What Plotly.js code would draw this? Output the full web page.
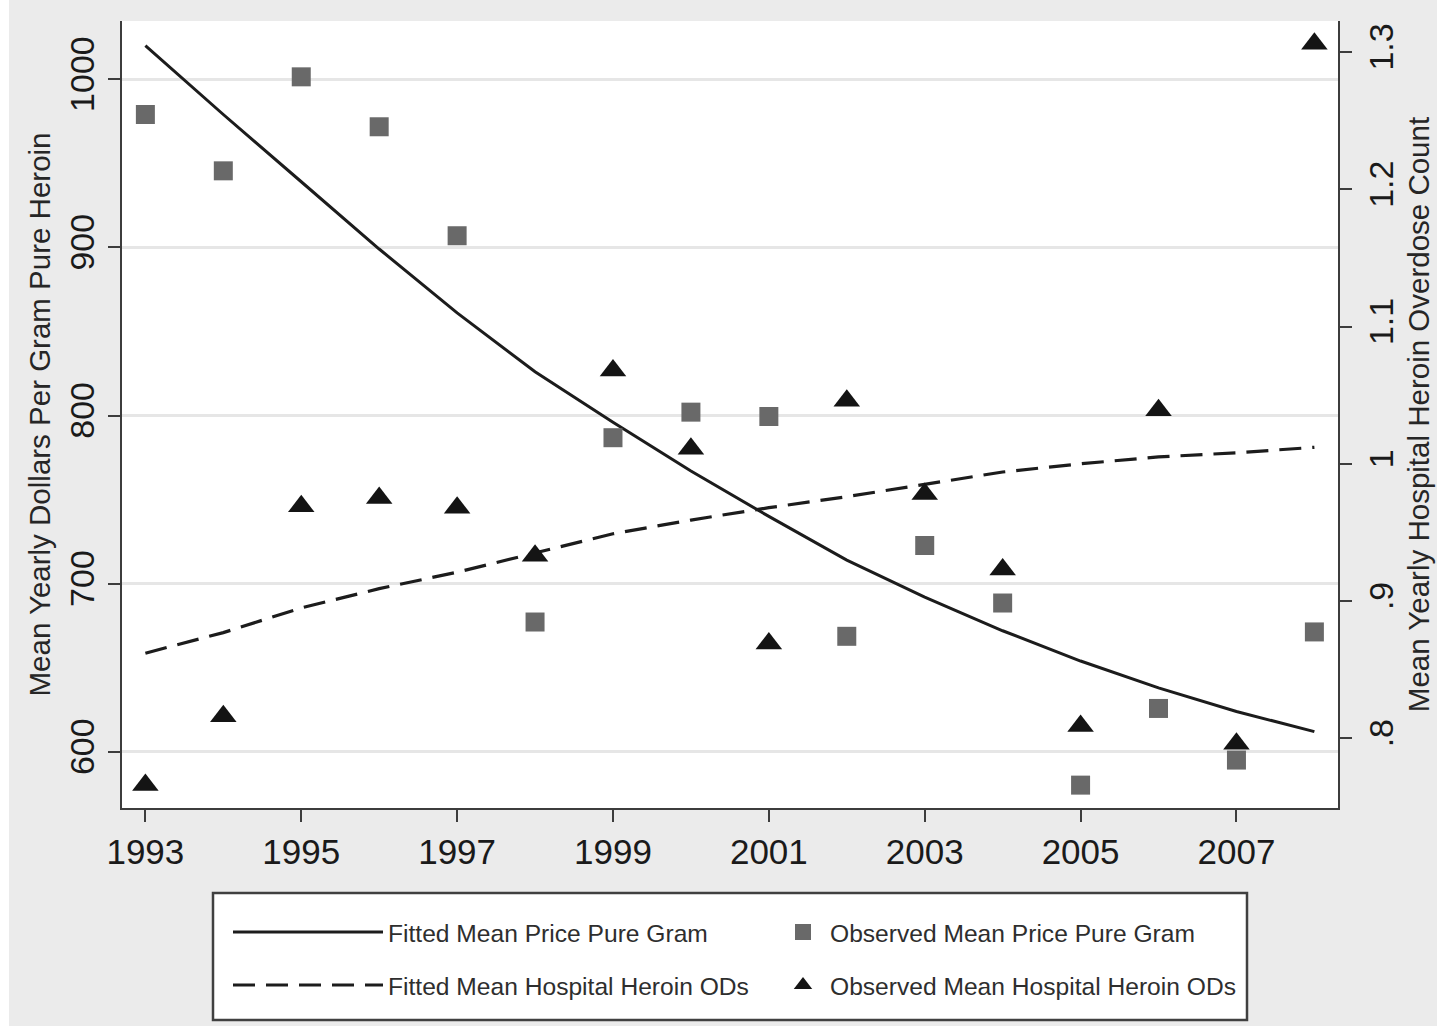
<!DOCTYPE html>
<html><head><meta charset="utf-8">
<script src="https://cdn.plot.ly/plotly-3.0.1.min.js"></script>
<style>html,body{margin:0;padding:0;background:#ebebeb;}#chart{width:1437px;height:1026px;}</style>
</head><body><div id="chart"></div>
<script>
// ---- data ----
const years = [1993,1994,1995,1996,1997,1998,1999,2000,2001,2002,2003,2004,2005,2006,2007,2008];
const observedPrice = [979.0,945.5,1001.4,971.7,906.9,677.2,786.8,802.0,799.4,668.7,722.7,688.5,580.2,625.8,595.1,671.3];
const fittedPrice = [1020,979,939,899,861,826,796,767,740,714,692,672,654,638,624,612];
const observedODs = [0.766,0.816,0.969,0.975,0.968,0.933,1.068,1.011,0.869,1.046,0.978,0.923,0.809,1.039,0.796,1.306];
const fittedODs = [0.862,0.877,0.895,0.909,0.921,0.935,0.949,0.959,0.968,0.976,0.985,0.994,1.000,1.005,1.008,1.012];
const xTickVals = [1993,1995,1997,1999,2001,2003,2005,2007];
const leftTickVals = [600,700,800,900,1000];
const rightTickVals = [0.8,0.9,1.0,1.1,1.2,1.3];
const rightTickText = ['.8','.9','1','1.1','1.2','1.3'];
const seriesNames = ['Fitted Mean Price Pure Gram','Observed Mean Price Pure Gram','Fitted Mean Hospital Heroin ODs','Observed Mean Hospital Heroin ODs'];

// ---- layout geometry ----
const W = 1437, H = 1026;
const M = {l:122, r:99, t:21, b:218};
const plotW = W - M.l - M.r, plotH = H - M.t - M.b;
const px2x = p => (p - M.l) / plotW;
const px2y = p => (H - M.b - p) / plotH;
const FONT = 'Liberation Sans, Arial, Helvetica, sans-serif';
const axisCol = '#3c3c3c';

const traces = [
  {x: years, y: fittedPrice, name: seriesNames[0], type:'scatter', mode:'lines', yaxis:'y',
   line:{color:'#1c1c1c', width:3}, legend:'legend'},
  {x: years, y: observedPrice, name: seriesNames[1], type:'scatter', mode:'markers', yaxis:'y',
   marker:{symbol:'square', size:19, color:'#696969'}, legend:'legend2'},
  {x: years, y: fittedODs, name: seriesNames[2], type:'scatter', mode:'lines', yaxis:'y2',
   line:{color:'#1c1c1c', width:3.2, dash:'22px,11px'}, legend:'legend3'},
  {x: years, y: observedODs, name: seriesNames[3], type:'scatter', mode:'markers', yaxis:'y2',
   marker:{symbol:'triangle-up', size:23, color:'#141414'}, legend:'legend4'}
];

function leg(xpx, ypx, iw){
  return {xref:'container', yref:'container', x: xpx/W, y: 1 - ypx/H, xanchor:'left', yanchor:'middle',
    orientation:'h', bgcolor:'rgba(0,0,0,0)', borderwidth:0, itemwidth: iw,
    font:{family:FONT, size:24.6, color:'#2e2e2e'}};
}

const layout = {
  width: W, height: H,
  margin: M,
  paper_bgcolor:'#ebebeb', plot_bgcolor:'#ffffff',
  font:{family:FONT, color:'#222222'},
  showlegend: true,
  xaxis:{range:[1992.70, 2008.303], tickvals:xTickVals, ticktext:xTickVals.map(String),
    showgrid:false, zeroline:false, showline:true, linecolor:axisCol, linewidth:2,
    ticks:'outside', ticklen:12, tickwidth:2, tickcolor:axisCol,
    tickfont:{size:35, color:'#1a1a1a'}},
  yaxis:{range:[566.6, 1034.6], tickvals:leftTickVals, ticktext:leftTickVals.map(String),
    tickangle:-90, showgrid:true, gridcolor:'#e6e6e6', gridwidth:3, zeroline:false,
    showline:true, linecolor:axisCol, linewidth:2, ticks:'outside', ticklen:12, tickwidth:2, tickcolor:axisCol,
    tickfont:{size:34, color:'#1a1a1a'},
    title:{text:'Mean Yearly Dollars Per Gram Pure Heroin', font:{size:29.5, color:'#262626'}, standoff:4}},
  yaxis2:{range:[0.7492, 1.3226], overlaying:'y', side:'right', tickvals:rightTickVals, ticktext:rightTickText,
    tickangle:-90, showgrid:false, zeroline:false, showline:true, linecolor:axisCol, linewidth:2,
    ticks:'outside', ticklen:12, tickwidth:2, tickcolor:axisCol,
    tickfont:{size:34, color:'#1a1a1a'},
    title:{text:'Mean Yearly Hospital Heroin Overdose Count', font:{size:29.5, color:'#262626'}, standoff:10}},
  legend: leg(228, 932, 150),
  legend2: leg(776, 932, 44),
  legend3: leg(228, 985, 150),
  legend4: leg(776, 985, 44),
  shapes:[
    {type:'rect', xref:'paper', yref:'paper', x0:px2x(213), x1:px2x(1247), y0:px2y(1020), y1:px2y(893),
     fillcolor:'#ffffff', line:{color:'#404040', width:2.5}, layer:'above'},
    {type:'rect', xref:'paper', yref:'paper', x0:px2x(0), x1:px2x(9), y0:px2y(H), y1:px2y(0),
     fillcolor:'#ffffff', line:{width:0}, layer:'below'}
  ]
};

Plotly.newPlot('chart', traces, layout, {staticPlot:true, displayModeBar:false});
</script>
</body></html>
